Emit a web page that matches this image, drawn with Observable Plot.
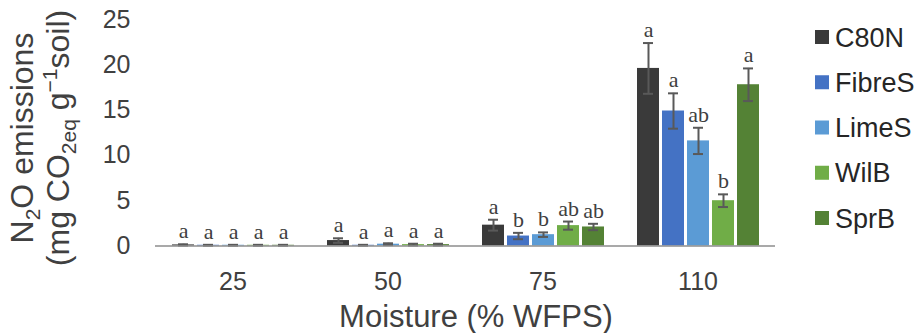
<!DOCTYPE html>
<html>
<head>
<meta charset="utf-8">
<script src="https://cdn.jsdelivr.net/npm/d3@7"></script>
<script src="https://cdn.jsdelivr.net/npm/@observablehq/plot@0.6"></script>
<style>
  html, body { margin: 0; padding: 0; background: #fff; }
  #chart { width: 917px; height: 333px; }
</style>
</head>
<body>
<div id="chart"></div>
<script>
const moisture = ["25", "50", "75", "110"];
const treatments = ["C80N", "FibreS", "LimeS", "WilB", "SprB"];
const colors = ["#3a3a3a", "#4472c4", "#5b9bd5", "#70ad47", "#548235"];
// means per treatment, in moisture order
const meanC80N   = [0.12, 0.60, 2.30, 19.6];
const meanFibreS = [0.08, 0.08, 1.10, 14.9];
const meanLimeS  = [0.08, 0.20, 1.25, 11.6];
const meanWilB   = [0.08, 0.15, 2.25, 5.0];
const meanSprB   = [0.08, 0.15, 2.10, 17.8];
// standard errors
const errC80N   = [0.07, 0.25, 0.60, 2.8];
const errFibreS = [0.05, 0.05, 0.35, 1.95];
const errLimeS  = [0.05, 0.10, 0.25, 1.45];
const errWilB   = [0.05, 0.10, 0.45, 0.7];
const errSprB   = [0.05, 0.10, 0.35, 1.8];
// significance letters per moisture level, in treatment order
const letters25  = ["a", "a", "a", "a", "a"];
const letters50  = ["a", "a", "a", "a", "a"];
const letters75  = ["a", "b", "b", "ab", "ab"];
const letters110 = ["a", "a", "ab", "b", "a"];
const yTicks = [0, 5, 10, 15, 20, 25];

const means = [meanC80N, meanFibreS, meanLimeS, meanWilB, meanSprB];
const errs = [errC80N, errFibreS, errLimeS, errWilB, errSprB];
const letterSets = [letters25, letters50, letters75, letters110];

const data = [];
moisture.forEach((m, mi) => {
  treatments.forEach((t, ti) => {
    data.push({
      moisture: m,
      treatment: t,
      mean: means[ti][mi],
      err: errs[ti][mi],
      letter: letterSets[mi][ti]
    });
  });
});

const font = "'Liberation Sans', Arial, sans-serif";
const errColor = "#595959";

const plot = Plot.plot({
  width: 917,
  height: 333,
  marginLeft: 153,
  marginRight: 141,
  marginTop: 19,
  marginBottom: 87.5,
  style: { fontFamily: font, color: "#404040", background: "#fff" },
  fx: { domain: moisture, padding: 0 },
  x: { domain: treatments, paddingInner: 0.12, paddingOuter: 0.55, axis: null },
  y: { domain: [0, 25] },
  color: { domain: treatments, range: colors },
  marks: [
    Plot.barY(data, { fx: "moisture", x: "treatment", y: "mean", fill: "treatment" }),
    Plot.ruleX(data, {
      fx: "moisture", x: "treatment",
      y1: d => d.mean - d.err, y2: d => d.mean + d.err,
      stroke: errColor, strokeWidth: 2
    }),
    Plot.tickY(data, {
      fx: "moisture", x: "treatment", y: d => d.mean + d.err,
      stroke: errColor, strokeWidth: 2, insetLeft: 6, insetRight: 6
    }),
    Plot.tickY(data, {
      fx: "moisture", x: "treatment", y: d => d.mean - d.err,
      stroke: errColor, strokeWidth: 2, insetLeft: 6, insetRight: 6
    }),
    Plot.text(data, {
      fx: "moisture", x: "treatment", y: d => d.mean + d.err, text: "letter",
      dy: -6, lineAnchor: "bottom", fontSize: 22,
      fontFamily: "'Liberation Serif', 'Times New Roman', serif", fill: "#404040"
    }),
    Plot.ruleY([0], { stroke: "#8c8c8c", strokeWidth: 1.5 }),
    Plot.axisY({ ticks: yTicks, tickSize: 0, tickPadding: 25, fontSize: 25, label: null, fill: "#404040" }),
    Plot.axisFx({ anchor: "bottom", tickSize: 0, tickPadding: 26, fontSize: 25, label: null, fill: "#404040" })
  ]
});

document.getElementById("chart").appendChild(plot);

const svg = d3.select(plot);
const titleColor = "#404040";

// x axis title
svg.append("text")
  .attr("x", 476).attr("y", 327)
  .attr("text-anchor", "middle")
  .attr("font-size", 31)
  .attr("font-family", font)
  .attr("fill", titleColor)
  .text("Moisture (% WFPS)");

// y axis title (two lines, rotated)
const yt1 = svg.append("text")
  .attr("transform", "translate(33,138) rotate(-90)")
  .attr("text-anchor", "middle")
  .attr("font-size", 32)
  .attr("font-family", font)
  .attr("fill", titleColor);
yt1.append("tspan").text("N");
yt1.append("tspan").attr("font-size", 21).attr("dy", 7).text("2");
yt1.append("tspan").attr("dy", -7).text("O emissions");

const yt2 = svg.append("text")
  .attr("transform", "translate(69,138) rotate(-90)")
  .attr("text-anchor", "middle")
  .attr("font-size", 32)
  .attr("font-family", font)
  .attr("fill", titleColor);
yt2.append("tspan").text("(mg CO");
yt2.append("tspan").attr("font-size", 21).attr("dy", 7).text("2eq");
yt2.append("tspan").attr("dy", -7).text(" g");
yt2.append("tspan").attr("font-size", 21).attr("dy", -12).text("\u22121");
yt2.append("tspan").attr("dy", 12).text("soil)");

// legend (vertical, right side)
const color = plot.scale("color");
const legend = svg.append("g").attr("text-anchor", "start");
treatments.forEach((t, i) => {
  const cy = 37 + i * 45.25;
  legend.append("rect")
    .attr("x", 815).attr("y", cy - 7).attr("width", 14).attr("height", 14)
    .attr("fill", color.range[color.domain.indexOf(t)]);
  legend.append("text")
    .attr("x", 835).attr("y", cy + 9.5)
    .attr("text-anchor", "start")
    .attr("font-size", 27)
    .attr("font-family", font)
    .attr("fill", "#262626")
    .text(t);
});
</script>
</body>
</html>
